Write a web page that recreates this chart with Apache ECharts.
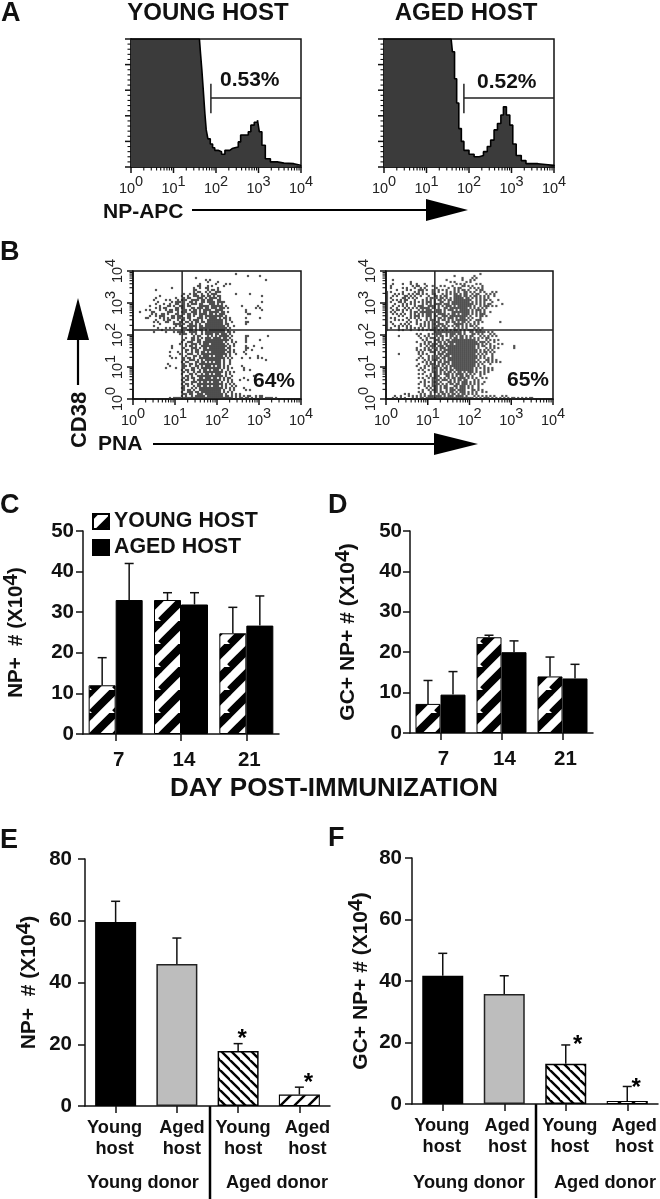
<!DOCTYPE html>
<html><head><meta charset="utf-8">
<style>html,body{margin:0;padding:0;background:#fff}#c{width:660px;height:1199px}</style>
<script src="https://cdn.jsdelivr.net/npm/echarts@6/dist/echarts.min.js"></script>
</head><body><div id="c"></div>
<script>
// ---- values (estimates) ----
// A: histograms, [log10 channel, % of full scale]
const histYoung=[[0,100],[1.61,100],[1.635,89],[1.667,76],[1.706,57.6],[1.738,42],[1.77,29],[1.81,22],[1.865,18],[1.92,15],[1.97,13],[2.05,12],[2.13,10],[2.21,13],[2.325,14.4],[2.38,15],[2.444,15.7],[2.524,19.6],[2.58,25],[2.68,25],[2.76,27.5],[2.82,32.7],[2.90,35],[2.976,36.6],[3.02,27.5],[3.08,17],[3.16,6.5],[3.28,4],[3.44,3],[3.6,2.6],[3.83,1.3],[3.99,0.5]];
const histAged=[[0,100],[1.58,100],[1.61,90],[1.66,69],[1.71,50],[1.76,30],[1.82,20],[1.88,13],[2,10],[2.12,8],[2.24,9],[2.34,12],[2.43,16],[2.51,21],[2.59,29],[2.67,34],[2.75,40.6],[2.81,47],[2.88,40.6],[2.96,32.7],[3.03,18],[3.11,9],[3.23,5],[3.34,2.6],[3.62,1.8],[3.86,1.3],[4,0.5]];
const gateYoung=[[1.88,42],[1.88,65],[1.88,54],[4,54]];
const gateAged=[[1.88,42],[1.88,65],[1.88,54],[4,54]];
// B: dot plots as transcribed rows, top to bottom; each char is one 1/21-decade by 1/16-decade cell
const dotsYoung=[
"",
"...................................................#",
".........................................................#.....#",
"...............................#",
"....................................#.#...........................#",
".....................................#....#",
".................................#.......#....#.#",
"................................##...#.#.....#",
"...................#..........#..#..##....#",
"...........#..................##.....#.##.#",
"..............................#.##..#.#..###",
".........................#..#.##..#..#.###.........#......#",
".............#..........#..#..###.##.##.#.##....................#",
"...........#.........#...#.##...###.#.####.#",
"..........#.....#.#...#.###..####.##.###..##",
"............#......#.###.#..##.#..##.####.####..................#",
"...........#...#..#..##..#.#.###.##...###.#.#",
"........#....#...##.#..###.##....#####.######.#.......#.......#",
"...........#.#.##....##.##...##.###.##.###.###.#.............#.#",
"......#.#....#..#.##.##..##.#.##.#.####..####...........#.......#",
"...#.....##......###..#.###..###.#.##.#####.##.#........#",
".........#.#..##.#...##..#.##.##.####.##.#.###...........##",
"........#..#.###...##.###..##.#..##.#########.#.........",
"......##.....#.#.#.##.##.#.##...###.#.####.#.##.#.......#......#",
"...........#...#.##...#.##..#.###.#..########.#.#",
"..........#.#...##..#..##.##.#.##.##.########.#..#......##",
".............#......####.#..##.#.#..#########.##........#",
"..........#..........#.##..#####.##.##########.#..#",
"............#...#.#.#...###.##.#.##############.#",
"..............#.........#..###.#.##.#.########.#",
"..........#.....#...#.####..####..#.##########.##.#",
".......................#.##..#.#..#.####.##.###.#",
"..............................#.##...#.#.#.#####.#......##.........#",
"..........................#..##.#.#.###.####.##.#.......#",
".........................#...##.##..############.#......#......#",
"........................#..###..##.##########.#..#.#....#",
".......................#..#..###.#.###.#######.#..#",
"...................#......#.##.#..#############.#.#.....#...#",
"...................#.....#...###.#.##.########.##.......##......#",
"..........................##.#.##..############.#.#.....#..#",
"..................#...#...#..#.##.##.#.#######.##.#....#",
".......................#...###..#.#############.#..#....#",
"..................#.......#...##.#.###.#.####.#.#.............#",
"...................#.#...#.##.#..#############.#.#....#...#...#.#",
".........................#..###.#.#.########.#..#.................#",
"........................#.##...##.##.#.#.###.#..#",
".................#.......#..##.#.###########.#..#",
"..................#......##.#..##.#.###.#.##.#.#......#",
"................#....#...#...##.#.##########.#.#.#.....#",
"........................#.##.##..#.##.#.###.#..#.......#..#",
".........................#.#..#.##.##########.#.#.#.....",
"........................#...##.#..#.##.#.###..#.#",
"..........................##.#..#############.#..#..........#",
".........................#.#.##..##.###.##.#.#.##......#",
"........................#.##..#.############.#.#.#...#...#",
".........................#...###.#.##.#.###.#..#.#",
"........................#.##.#..#############.#.#.#",
".........................#.#..#.##.##.#.###.#.#..#.#",
"........................##...#.#.############.#.#.#....#",
".........................#.##.#..###########.#..#.#.....#.#",
"........................#..###.##.##########.#.#.#",
".........................##.##..###.#########.#..#.#.#",
"........................#.#..#.#####.########.##.#.#.#.#.##..#.##",
"..................#.####.#########################.#.##.##.#.#.##.####.#",
];
const dotsAged=[
"",
"...............................................#",
"..................................#.........#",
"......................................#....#.#",
"...#..........................#.......#...#.#",
"............#...................#.#.....#.#",
"...#....#...#..#...#...............#.#.#.....#.#",
"..#..........#.##...#..#...#.#...#....##.#.#....#",
"..#.....#.#...#..#.#.....#.....#..#.##....#.#.#.#",
".....#....#.#...###.#..#..#.#.#...#.#.##.#...#.##",
"#.#.....#.....#.#.#....#..#...#.#.#.#..##.#.#..#.#...#.#",
"#...#.#.#..#.#.##.#.#..##...#.#.#.##.#.##..#.##...#.#.#",
"#..#.#...##.#.#..#...#..##.#.##...####.##.#.##.#.#.#..#",
"#.#.....##.#.#.#....#.##.#.##.#.#.#####.##.#.#.#.#.#",
"#..#.#.#.##...#...#.#.#.#.##.#.##.#########..#.#.##.#...#",
"#.#...##.#..#.#.#.#.###.#..##..#.#########.#.#.#.#...#",
"#...#...#.#.#.#...#.#.#.####.###.###########.#.#.#.##.....#",
"#..#..#.#.#...#.###..####.#.#.###.#.#######.#..#.###.#.#",
"#.#..#...#.#.#.#.#####.##.#..##.#########.#.#.#.#.#",
"#..#.##.#.#.#...#.#.###..###.#.###.#.#####.#.###.#",
"#.#.#...#...#.##.#######.###.#...#########.#.#.#.#..#",
"#..#.#.#.#..#.#.#.#.###.#.####.#.##.#.####.#.#.###",
"#.....#.#...#.###.#.###.##..###.#########.#..#.##.#",
"#.#.#.....#.#.#.#...#.#.#.##.#.###.#.###.#.#...#",
"#...#.#.#..#...#.#..#.###.#.##.#.#.######.#..###.....",
"#.#.......#.#..#...#.#.#.##...##.##.#.##.#..#.#.#........#",
"#..#...#.#.#...#.#.#.#.##.###.#...#####.#.#.#.#",
"#...#.#.#.#.#....#.#.#.#.##.##.#.#.##.#.#.##.#",
"#.#...#...#.#.#.#.#..#.###.#.##...#.#.#.#...#.#.#",
"#.....#.#...#...#.#.#.##..#.#.#.#.##.#.#.###.#.#",
"........................##############.#..##.#####.#.#",
"...............#.#...#.#.###..#.###.##.#...##.#.#...#.#",
"......#.........#..#.#...#.##.#.##.#.##.#.##...#.#.#.#.#",
".................#..#.###.#.#...#.##.##.#.#.#.#.#.##",
"..................#.#...###.#.##.############.#...#.#.#.#",
"...............#...#.##.#.##.#.###############.###.#..#",
".................#.#.#.###.#.##.##.############.#.#.#...#.#",
".................#..#.###.###.###############.#.##..#.#.........#",
"...............#...#.#.#.#.###.##############.#...#.#.#.#.......#",
"...............#.#.#.##.##.#.#################.#.#.#.#",
"................#.#...###.#.##.###############.#.##.#.#",
"......#.........#.#.#...#.###.###############.#.#.#..#",
".................#...#.#.#.#.###.#############.#.#...#",
"................#.#..#.#.##.##.###############.#.#.#.#",
"...............#...#.#.###.#.#.##############.#...##.#.#",
"..................#.#.#.#.##.###.#############.#.#.#.#.#.#",
"................#...#.###.#.##.#.############.#.#...#",
"...............#...#.#.#.##.#.#.#############.#..#",
".................#.#...###.#.##.#.##########.#.#.#.#.#",
"................#.#..#.#.#.##.#.##.#########.#...#.#.#",
"...................#...###.#.#.##.#.##.#.###.#.#.#.#",
"................#.#...#.##.#.###.#.####.#.#.#..#.#",
"....................#.#.###...##.#.#.##.##.#...#",
"................#.#..#.###.#.#.#.##.####.#.#.#..#.#",
"...................#...#.##.###.#.#.##.##...#.#",
".................#.#.#.###.#...##.#.#.###.#.#.#..#",
"................#..#...#.##.#.#.##.##.###.#.#.#.#",
"...................#.#.###.#.##...##.###.#.#..#",
"................#...#.#.##.#.##.##.#.###.#.#..#",
"..................#..#.###.#..#.###.####...##.#.#",
"................#.#...#.##.##.#.##.#.###.#.#.#..#.#",
".........#.#.....#.#..#...#.##.#.##.#.##.#.#.#",
"....#..#...#.#.#.#.#.###.###.#.###.####.#...#.#.#.#.#.#...#.#",
"...#.#.#.#...#.#.##.########################.#.#.###.#.#.#.#.#.##.#.#.#.##",
];
const gateDots=[1.17,2.16];
const logMajor=[1,10,100,1000,10000];
const logMinor=[2,3,4,5,6,7,8,9,20,30,40,50,60,70,80,90,200,300,400,500,600,700,800,900,2000,3000,4000,5000,6000,7000,8000,9000];
const histMajor=[0,20,40,60,80,100];
const histMinor=[4,8,12,16,24,28,32,36,44,48,52,56,64,68,72,76,84,88,92,96];
// C, D
const days=['7','14','21'];
const cYoung=[12,33,24.8],cYoungTop=[18.8,34.8,31.2];
const cAged=[33,31.9,26.7],cAgedTop=[42,34.8,34];
const dYoung=[7.2,23.7,14],dYoungTop=[13,24.2,18.8];
const dAged=[9.5,20,13.5],dAgedTop=[15.2,22.8,17];
// E, F
const hosts=['Young\nhost','Aged\nhost','Young\nhost','Aged\nhost'];
const eVals=[59.6,46,17.8,3.7],eTops=[66.3,54.4,20.2,6.1];
const fVals=[41.7,35.8,13.1,1],fTops=[49,41.7,19.2,5.7];
const signif=[false,false,true,true];

// ---- styling ----
const FONT='"Liberation Sans",Arial,sans-serif';
function stripes(period,band,dir){
  const c=document.createElement('canvas');c.width=c.height=period;
  const g=c.getContext('2d');g.fillStyle='#fff';g.fillRect(0,0,period,period);
  g.strokeStyle='#000';g.lineWidth=band;
  for(let k=-1;k<=2;k++){g.beginPath();
    if(dir>0){g.moveTo(k*period-period,period);g.lineTo(k*period+period,-period);}
    else{g.moveTo(k*period-period,-period);g.lineTo(k*period+period,period);}
    g.stroke();}
  return {image:c,repeat:'repeat'};
}
const wide=stripes(23,8,1), fine=stripes(10,2.4,-1), sparse=stripes(14,2.4,1);

const grids=[],xAxes=[],yAxes=[],series=[];
function sup(base,exp,k){return `{${k}|${base}}{${k}s|${exp}}`;}
const logRich={t:{fontFamily:FONT,fontSize:14.5,color:'#222',verticalAlign:'bottom',lineHeight:20},
  ts:{fontFamily:FONT,fontSize:14.5,color:'#222',verticalAlign:'bottom',lineHeight:20,padding:[0,0,7,0]}};
// ticks placed through the axis scales, so the log spacing comes from the axis itself
function tickSeries(gi,side,values,base,len,width){
  return {type:'custom',xAxisIndex:gi,yAxisIndex:gi,silent:true,clip:false,z:3,
    data:values.map(v=>[v,base]),
    renderItem(p,api){
      const v=api.value(0),b=api.value(1);
      const q=side==='x'?api.coord([v,b]):api.coord([b,v]);
      const shape=side==='x'?{x1:q[0],y1:q[1],x2:q[0],y2:q[1]+len}:{x1:q[0],y1:q[1],x2:q[0]-len,y2:q[1]};
      return {type:'line',shape,style:{stroke:'#111',lineWidth:width}};
    }};
}
function logAxisX(gi){return {type:'log',logBase:10,min:1,max:10000,gridIndex:gi,position:'bottom',
  axisLine:{show:true,onZero:false,lineStyle:{color:'#111',width:1.5}},
  axisTick:{show:false},splitLine:{show:false},minorSplitLine:{show:false},
  axisLabel:{margin:9,hideOverlap:false,showMinLabel:true,showMaxLabel:true,
    formatter:v=>sup('10',Math.round(Math.log10(v)),'t'),rich:logRich}};}

function histPanel(left,data,gate){
  const gi=grids.length;
  grids.push({left,top:39,width:170,height:128,show:true,borderColor:'#111',borderWidth:1.5,backgroundColor:'#fff'});
  xAxes.push(logAxisX(gi));
  yAxes.push({type:'value',gridIndex:gi,min:0,max:100,interval:20,
    axisLine:{show:true,lineStyle:{color:'#111',width:1.5}},axisTick:{show:false},
    splitLine:{show:false},axisLabel:{show:false}});
  series.push({type:'line',xAxisIndex:gi,yAxisIndex:gi,step:'end',symbol:'none',silent:true,
    data:data.map(p=>[Math.pow(10,p[0]),p[1]]),
    lineStyle:{color:'#000',width:1.6},areaStyle:{color:'#3b3b3b',opacity:1}});
  series.push({type:'line',xAxisIndex:gi,yAxisIndex:gi,symbol:'none',silent:true,
    data:gate.map(p=>[Math.pow(10,p[0]),p[1]]),lineStyle:{color:'#222',width:1.5},z:5});
  series.push(tickSeries(gi,'x',logMajor,0,6,1.5),tickSeries(gi,'x',logMinor,0,3.5,1.1),
              tickSeries(gi,'y',histMajor,1,6,1.5),tickSeries(gi,'y',histMinor,1,3.5,1.1));
}
function dotPanel(left,width,rows){
  const gi=grids.length;
  grids.push({left,top:271,width,height:128,show:true,borderColor:'#111',borderWidth:1.5,backgroundColor:'#fff'});
  xAxes.push(logAxisX(gi));
  yAxes.push({type:'log',logBase:10,min:1,max:10000,gridIndex:gi,
    axisLine:{show:true,onZero:false,lineStyle:{color:'#111',width:1.5}},
    axisTick:{show:false},splitLine:{show:false},minorSplitLine:{show:false},
    axisLabel:{rotate:90,margin:8,formatter:v=>sup('10',Math.round(Math.log10(v)),'t'),rich:logRich}});
  const pts=[];
  rows.forEach((row,r)=>{for(let c=0;c<row.length;c++) if(row[c]==='#')
    pts.push([Math.pow(10,(c+.5)/21),Math.pow(10,(64-r-.5)/16)]);});
  series.push({type:'scatter',xAxisIndex:gi,yAxisIndex:gi,symbol:'rect',symbolSize:2.2,silent:true,large:false,
    data:pts,itemStyle:{color:'#2a2a2a'}});
  const gx=Math.pow(10,gateDots[0]),gy=Math.pow(10,gateDots[1]);
  series.push({type:'line',xAxisIndex:gi,yAxisIndex:gi,symbol:'none',silent:true,
    data:[[gx,1],[gx,10000]],lineStyle:{color:'#222',width:1.5},z:5});
  series.push({type:'line',xAxisIndex:gi,yAxisIndex:gi,symbol:'none',silent:true,
    data:[[1,gy],[10000,gy]],lineStyle:{color:'#222',width:1.5},z:5});
  series.push(tickSeries(gi,'x',logMajor,1,6,1.5),tickSeries(gi,'x',logMinor,1,3.5,1.1),
              tickSeries(gi,'y',logMajor,1,6,1.5),tickSeries(gi,'y',logMinor,1,3.5,1.1));
}
function errSeries(gi,vals,tops,offset,cap,stars){
  return {type:'custom',xAxisIndex:gi,yAxisIndex:gi,silent:true,z:4,clip:false,
    data:vals.map((v,i)=>[i,v,tops[i]]),
    renderItem(p,api){
      const i=api.value(0),a=api.coord([i,api.value(1)]),b=api.coord([i,api.value(2)]);
      const x=a[0]+offset,st={stroke:'#111',lineWidth:1.5};
      const kids=[{type:'line',shape:{x1:x,y1:a[1],x2:x,y2:b[1]},style:st},
                  {type:'line',shape:{x1:x-cap/2,y1:b[1],x2:x+cap/2,y2:b[1]},style:st}];
      if(stars&&signif[i]) kids.push({type:'text',style:{x:x+stars[i][0],y:b[1]+stars[i][1],text:'*',
        fontFamily:FONT,fontWeight:'bold',fontSize:24,fill:'#000',textAlign:'center',textVerticalAlign:'middle'}});
      return {type:'group',children:kids};
    }};
}
const bold=(s)=>({fontFamily:FONT,fontWeight:'bold',fontSize:s,color:'#111'});
function barAxes(gi,cats,max,step,title,nameGap,nameSize,labelMargin,xLabel){
  xAxes.push(Object.assign({type:'category',gridIndex:gi,data:cats,
    axisLine:{show:true,onZero:false,lineStyle:{color:'#111',width:1.5}},
    axisTick:{show:true,alignWithLabel:true,length:7,lineStyle:{color:'#111',width:1.5}}},xLabel));
  yAxes.push({type:'value',gridIndex:gi,min:0,max,interval:step,
    name:title,nameLocation:'middle',nameGap,nameRotate:90,
    nameTextStyle:{rich:{n:bold(nameSize),s:Object.assign(bold(nameSize),{padding:[0,0,9,0]})}},
    axisLine:{show:true,lineStyle:{color:'#111',width:1.5}},
    axisTick:{show:true,length:7,lineStyle:{color:'#111',width:1.5}},
    splitLine:{show:false},
    axisLabel:Object.assign(bold(20.5),{margin:labelMargin,padding:[8,0,0,0]})});
}
function groupedPanel(box,title,nameGap,nameSize,labelMargin,young,youngTop,aged,agedTop){
  const gi=grids.length,w=box.bw;
  grids.push({left:box.left,top:box.top,width:box.width,height:box.height});
  barAxes(gi,days,50,10,title,nameGap,nameSize,labelMargin,{axisLabel:Object.assign(bold(20.5),{margin:16,padding:[0,0,0,6]})});
  series.push({type:'bar',name:'YOUNG HOST',xAxisIndex:gi,yAxisIndex:gi,barWidth:w,barGap:0,data:young,
    itemStyle:{color:wide,borderColor:'#000',borderWidth:1}});
  series.push({type:'bar',name:'AGED HOST',xAxisIndex:gi,yAxisIndex:gi,barWidth:w,barGap:0,data:aged,
    itemStyle:{color:'#000',borderColor:'#000',borderWidth:1}});
  series.push(errSeries(gi,young,youngTop,-w/2,9));
  series.push(errSeries(gi,aged,agedTop,w/2,9));
}
const catShift=[[-1,5,5,8],[-1,3,4,7]];
function donorPanel(box,title,nameGap,labelMargin,vals,tops,stars,shifts){
  const gi=grids.length;
  grids.push({left:box.left,top:box.top,width:box.width,height:box.height});
  const rich={};
  shifts.forEach((s,i)=>{rich['k'+i]=Object.assign(bold(18.2),{lineHeight:21,
     padding:s>=0?[0,0,0,2*s]:[0,-2*s,0,0]});});
  barAxes(gi,hosts,80,20,title,nameGap,21,labelMargin,{axisLabel:{margin:11,interval:0,
    formatter:(v,i)=>v.split('\n').map(t=>`{k${i}|${t}}`).join('\n'),rich}});
  const fills=[{color:'#000',borderColor:'#000',borderWidth:1.5},{color:'#bdbdbd',borderColor:'#222',borderWidth:1.5},
               {color:fine,borderColor:'#000',borderWidth:1.5},{color:sparse,borderColor:'#000',borderWidth:1.1}];
  series.push({type:'bar',xAxisIndex:gi,yAxisIndex:gi,barWidth:41,
    data:vals.map((v,i)=>({value:v,itemStyle:fills[i]}))});
  series.push(errSeries(gi,vals,tops,0,9,stars));
}

histPanel(131,histYoung,gateYoung);
histPanel(384,histAged,gateAged);
dotPanel(133,168,dotsYoung);
dotPanel(386,167,dotsAged);
const npTitle='{n|NP+  # (X10}{s|4}{n|)}', gcTitle='{n|GC+ NP+ # (X10}{s|4}{n|)}';
groupedPanel({left:82,top:531,width:197,height:203,bw:27},npTitle,52,20.5,9,cYoung,cYoungTop,cAged,cAgedTop);
groupedPanel({left:410,top:531,width:183,height:202,bw:25},gcTitle,47,21,8,dYoung,dYoungTop,dAged,dAgedTop);
donorPanel({left:85,top:859,width:245,height:247},npTitle,41,13,eVals,eTops,[0,0,[4,-4],[9,-4]],catShift[0]);
donorPanel({left:412,top:858,width:246,height:246},gcTitle,36,10,fVals,fTops,[0,0,[12,0],[9,2]],catShift[1]);

const txt=(x,y,text,size,align,extra)=>Object.assign({type:'text',x,y,
  style:{text,fontFamily:FONT,fontWeight:'bold',fontSize:size,fill:'#111',align:align||'left',verticalAlign:'middle'}},extra);
const ln=(x1,y1,x2,y2,w)=>({type:'line',shape:{x1,y1,x2,y2},style:{stroke:'#000',lineWidth:w}});
const poly=(pts)=>({type:'polygon',shape:{points:pts},style:{fill:'#000'}});
const graphics=[
  txt(1,14,'A',27),txt(0,253,'B',27),txt(0,506,'C',27),txt(328,506,'D',27),txt(0,841,'E',27),txt(328,839,'F',27),
  txt(208,13,'YOUNG HOST',24,'center'),txt(466,13,'AGED HOST',24,'center'),
  txt(220,80,'0.53%',21),txt(477,82,'0.52%',21),
  txt(253,381,'64%',21),txt(507,380,'65%',21),
  txt(103,212,'NP-APC',21),txt(98,444,'PNA',21),
  txt(80,420,'CD38',22,'center',{rotation:Math.PI/2}),
  ln(192,210,430,210,2.2),poly([[426,199],[426,221],[468,210]]),
  ln(153,444,438,444,2.2),poly([[434,433],[434,455],[478,444]]),
  ln(78,385,78,338,2.2),poly([[67,340],[89,340],[78,298]]),
  txt(334,789,'DAY POST-IMMUNIZATION',26,'center'),
  ln(210,1106,210,1199,2.5),ln(536,1104,536,1198,2.5),
  txt(143,1183,'Young donor',18.2,'center'),txt(277,1183,'Aged donor',18.2,'center'),
  txt(469,1183,'Young donor',18.2,'center'),txt(605,1183,'Aged donor',18.2,'center')
];
const chart=echarts.init(document.getElementById('c'),null,{renderer:'canvas'});
chart.setOption({animation:false,backgroundColor:'#fff',textStyle:{fontFamily:FONT},
  legend:{data:[{name:'YOUNG HOST',icon:'rect'},{name:'AGED HOST',icon:'rect'}],orient:'vertical',left:92,top:511,itemWidth:16,itemHeight:15,itemGap:5,
    selectedMode:false,padding:0,textStyle:bold(21.4)},
  grid:grids,xAxis:xAxes,yAxis:yAxes,series,graphic:graphics});
</script></body></html>
